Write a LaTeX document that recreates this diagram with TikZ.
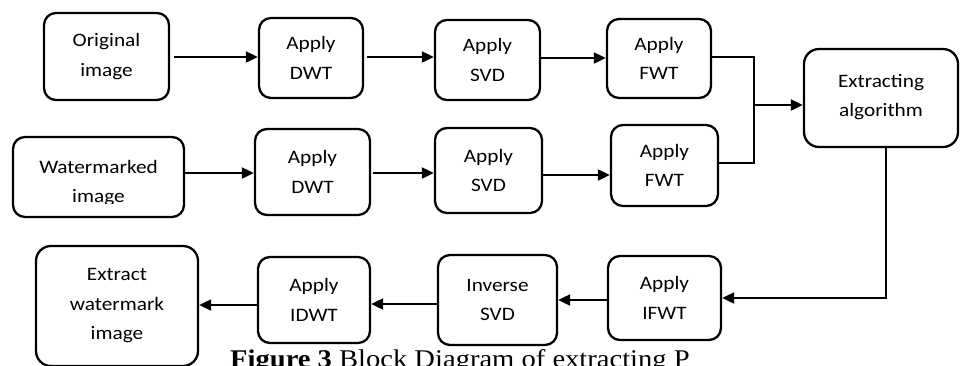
\documentclass[tikz,border=0pt]{standalone}
\usepackage{fontspec}
\setmainfont{Carlito}[FakeStretch=1.12]
\newfontfamily\capfont{Liberation Serif}[FakeStretch=1.12]
\usetikzlibrary{arrows.meta}
\begin{document}
\begin{tikzpicture}[x=1pt,y=-1pt,
  box/.style={draw, line width=2.3pt, rounded corners=12pt, align=center,
    font=\fontsize{19}{29.5}\selectfont, inner sep=0pt},
  txt/.style={font=\fontsize{19}{29.5}\selectfont, inner sep=0pt, anchor=base},
  arr/.style={line width=2pt, -{Triangle[length=12pt,width=11pt]}},
  ln/.style={line width=2pt}]
\useasboundingbox (0,0) rectangle (960,365);
\clip (0,0) rectangle (960,365);

% top row
\node[box, minimum width=125pt, minimum height=87pt] (orig) at (106.5,56.5) {Original\\image};
\node[box, minimum width=104pt, minimum height=80pt] (dwt1) at (311,58) {Apply\\DWT};
\node[box, minimum width=105pt, minimum height=80pt] (svd1) at (487.5,60) {Apply\\SVD};
\node[box, minimum width=104pt, minimum height=79pt] (fwt1) at (659,58.5) {Apply\\FWT};
\node[box, minimum width=154pt, minimum height=98pt, rounded corners=15pt] (ext) at (881,98) {};
\node[txt] (extt1) at (881,87) {Extracting};
\node[txt] (extt2) at (881,116) {algorithm};

% middle row
\node[box, minimum width=171pt, minimum height=80pt] (wm) at (98.5,177) {};
\begin{scope}
  \clip (14,139) rectangle (183,203.5);
  \node[txt] (wmt1) at (98.5,173) {Watermarked};
  \node[txt] (wmt2) at (98.5,202) {image};
\end{scope}
\node[box, minimum width=115pt, minimum height=86pt] (dwt2) at (312.5,172) {Apply\\DWT};
\node[box, minimum width=107pt, minimum height=85pt] (svd2) at (488.5,170.5) {Apply\\SVD};
\node[box, minimum width=107pt, minimum height=81pt] (fwt2) at (664.5,165.5) {Apply\\FWT};

% bottom row
\node[box, minimum width=162pt, minimum height=120pt, rounded corners=15pt] (exw) at (117,306) {Extract\\watermark\\image};
\node[box, minimum width=112pt, minimum height=86pt] (idwt) at (314,300) {Apply\\IDWT};
\node[box, minimum width=119pt, minimum height=90pt] (isvd) at (497.5,300) {Inverse\\SVD};
\node[box, minimum width=113pt, minimum height=84pt] (ifwt) at (664.5,298) {Apply\\IFWT};

% caption (cut off by the picture edge)
\node[font=\capfont\fontsize{25.5}{30}\selectfont, anchor=base west, inner sep=0pt] (cap)
  at (230,367) {\textbf{Figure 3} Block Diagram of extracting P};

% connectors
\coordinate (jn) at (754,105);
\coordinate (cr) at (886,298);
\draw[arr] ([xshift=4pt]orig.east |- 0,57) -- (dwt1.west |- 0,57);
\draw[arr] ([xshift=3pt]dwt1.east |- 0,57) -- (svd1.west |- 0,57);
\draw[arr] (svd1.east |- 0,58) -- (fwt1.west |- 0,58);
\draw[ln] (fwt1.east |- 0,57) -| (jn) |- (fwt2.east |- 0,163);
\draw[arr] (jn) -- (ext.west |- jn);
\draw[arr] (wm.east |- 0,173) -- (dwt2.west |- 0,173);
\draw[arr] ([xshift=2pt]dwt2.east |- 0,173) -- (svd2.west |- 0,173);
\draw[arr] (svd2.east |- 0,175) -- (fwt2.west |- 0,175);
\draw[arr] (ext.south -| cr) -- (cr) -- (ifwt.east |- cr);
\draw[arr] (ifwt.west |- 0,300) -- (isvd.east |- 0,300);
\draw[arr] (isvd.west |- 0,304) -- (idwt.east |- 0,304);
\draw[arr] (idwt.west |- 0,305) -- (exw.east |- 0,305);
\end{tikzpicture}
\end{document}
